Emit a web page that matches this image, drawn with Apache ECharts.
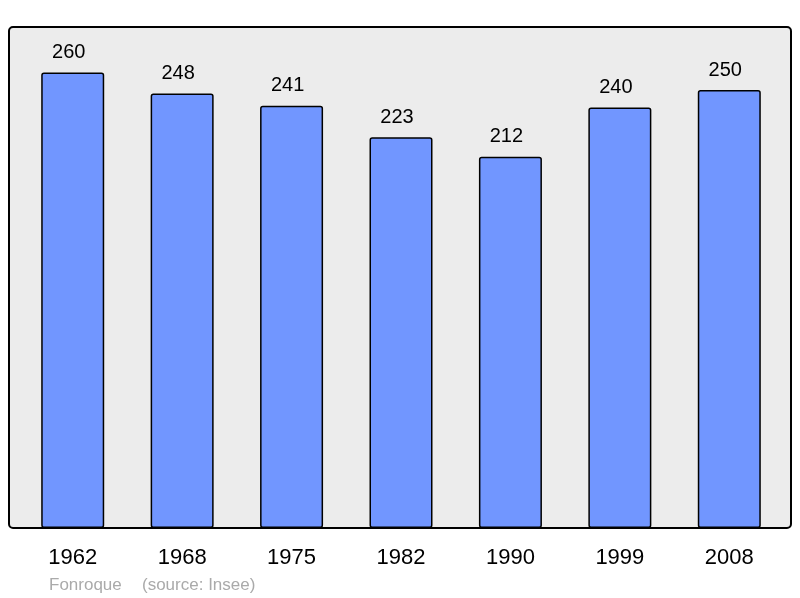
<!DOCTYPE html>
<html>
<head>
<meta charset="utf-8">
<script src="https://cdn.jsdelivr.net/npm/echarts@6/dist/echarts.min.js"></script>
<style>
  html, body { margin: 0; padding: 0; background: #fff; }
  #chart { width: 800px; height: 598px; }
</style>
</head>
<body>
<div id="chart"></div>
<script>
const years = ['1962', '1968', '1975', '1982', '1990', '1999', '2008']
const population = [260, 248, 241, 223, 212, 240, 250]
const credits = ['Fonroque', '(source: Insee)']

const chart = echarts.init(document.getElementById('chart'))

chart.setOption({
  animation: false,
  textStyle: { fontFamily: 'Liberation Sans' },
  graphic: [
    {
      type: 'rect',
      shape: { x: 9, y: 27, width: 782, height: 501, r: 4 },
      style: { fill: '#ececec', stroke: '#000', lineWidth: 2 },
      z: -10
    },
    {
      type: 'text',
      left: 49,
      top: 577,
      style: { text: credits[0], fill: '#aaaaaa', font: '17px "Liberation Sans"' }
    },
    {
      type: 'text',
      left: 142,
      top: 577,
      style: { text: credits[1], fill: '#aaaaaa', font: '17px "Liberation Sans"' }
    }
  ],
  grid: { left: 18, right: 16, top: 27, bottom: 70 },
  xAxis: {
    type: 'category',
    data: years,
    axisLine: { show: false },
    axisTick: { show: false },
    axisLabel: { color: '#000', fontSize: 22, margin: 19 }
  },
  yAxis: {
    type: 'value',
    min: 0,
    max: 286,
    show: false,
    splitLine: { show: false }
  },
  series: [{
    type: 'bar',
    data: population,
    barWidth: 63,
    itemStyle: {
      color: '#7196ff',
      borderColor: '#000',
      borderWidth: 1.5,
      borderRadius: 2
    },
    label: {
      show: true,
      position: 'top',
      distance: 10,
      offset: [-4, 0],
      color: '#000',
      fontSize: 20
    }
  }]
})
</script>
</body>
</html>
